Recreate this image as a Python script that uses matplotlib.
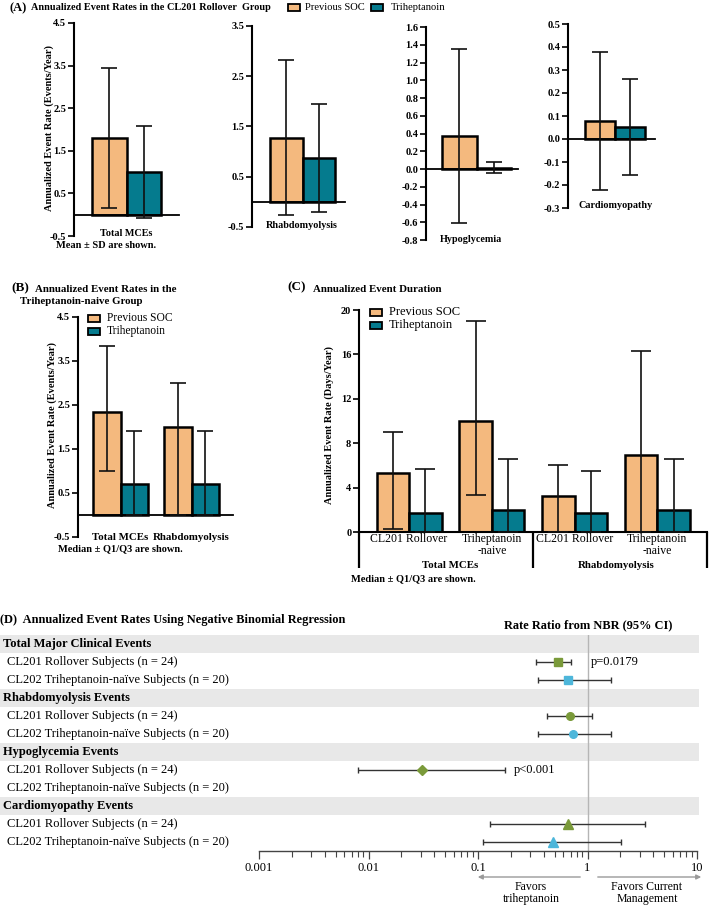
import numpy as np
import matplotlib
matplotlib.use("Agg")
import matplotlib.pyplot as plt
from matplotlib.patches import Rectangle, FancyArrowPatch
from matplotlib.transforms import blended_transform_factory

# ---------------- data ----------------
a_categories = ["Total MCEs", "Rhabdomyolysis", "Hypoglycemia", "Cardiomyopathy"]
a_soc_mean = [1.80, 1.28, 0.37, 0.08]
a_soc_sd = [1.65, 1.55, 0.98, 0.30]
a_tri_mean = [1.00, 0.87, 0.015, 0.053]
a_tri_sd = [1.08, 1.08, 0.065, 0.21]
a_yticks = [[4.5, 3.5, 2.5, 1.5, 0.5, -0.5],
            [3.5, 2.5, 1.5, 0.5, -0.5],
            [1.6, 1.4, 1.2, 1.0, 0.8, 0.6, 0.4, 0.2, 0.0, -0.2, -0.4, -0.6, -0.8],
            [0.5, 0.4, 0.3, 0.2, 0.1, 0.0, -0.1, -0.2, -0.3]]

b_categories = ["Total MCEs", "Rhabdomyolysis"]
b_soc_median = [2.33, 2.00]
b_soc_q1 = [1.00, 0.00]
b_soc_q3 = [3.83, 3.00]
b_tri_median = [0.70, 0.70]
b_tri_q1 = [0.00, 0.00]
b_tri_q3 = [1.90, 1.90]
b_yticks = [4.5, 3.5, 2.5, 1.5, 0.5, -0.5]

c_groups = ["Total MCEs", "Rhabdomyolysis"]
c_subgroups = ["CL201 Rollover", "Triheptanoin\n-naive", "CL201 Rollover", "Triheptanoin\n-naive"]
c_soc_median = [5.3, 10.0, 3.25, 6.95]
c_soc_q1 = [0.3, 3.3, 0.0, 0.0]
c_soc_q3 = [9.0, 19.0, 6.0, 16.3]
c_tri_median = [1.75, 1.95, 1.75, 1.95]
c_tri_q1 = [0.0, 0.0, 0.0, 0.0]
c_tri_q3 = [5.7, 6.6, 5.5, 6.6]
c_yticks = [0, 4, 8, 12, 16, 20]

d_groups = ["Total Major Clinical Events", "Rhabdomyolysis Events",
            "Hypoglycemia Events", "Cardiomyopathy Events"]
d_subjects = ["CL201 Rollover Subjects (n = 24)",
              "CL202 Triheptanoin-naïve Subjects (n = 20)"]
d_rr_cl201 = [0.54, 0.69, 0.031, 0.67]
d_lo_cl201 = [0.34, 0.43, 0.008, 0.13]
d_hi_cl201 = [0.70, 1.11, 0.177, 3.36]
d_rr_cl202 = [0.665, 0.74, np.nan, 0.48]
d_lo_cl202 = [0.35, 0.35, np.nan, 0.11]
d_hi_cl202 = [1.64, 1.64, np.nan, 2.04]
d_pvals = ["p=0.0179", "", "p<0.001", ""]
d_xticks = [0.001, 0.01, 0.1, 1, 10]
d_xticklabels = ["0.001", "0.01", "0.1", "1", "10"]

# ---------------- style ----------------
plt.rcParams['font.family'] = ['Liberation Serif', 'DejaVu Serif']
plt.rcParams['axes.unicode_minus'] = False

ORANGE = '#F4B97E'
TEAL = '#057B8E'
GREEN = '#7A9A3A'
BLUE = '#4DB6DA'
BAND = '#E8E8E8'

W, H = 709, 907
fig = plt.figure(figsize=(W / 100, H / 100), dpi=100)


def add_ax(l, t, r, b):
    return fig.add_axes([l / W, 1 - b / H, (r - l) / W, (b - t) / H])


def ftext(x, y, s, **kw):
    kw.setdefault('va', 'center')
    return fig.text(x / W, 1 - y / H, s, **kw)


def legend_item(x, y, color, label, fs, gap=7):
    w, h = 12, 7
    fig.add_artist(Rectangle((x / W, 1 - (y + h / 2) / H), w / W, h / H,
                             transform=fig.transFigure, facecolor=color,
                             edgecolor='black', lw=1.3))
    ftext(x + w + gap, y, label, fontsize=fs, ha='left')


def draw_pairs(ax, xs, width, soc, soc_lo, soc_hi, tri, tri_lo, tri_hi, capsize):
    soc, soc_lo, soc_hi = map(np.asarray, (soc, soc_lo, soc_hi))
    tri, tri_lo, tri_hi = map(np.asarray, (tri, tri_lo, tri_hi))
    ax.bar(xs - width / 2, soc, width, color=ORANGE, edgecolor='black', linewidth=1.8, zorder=2)
    ax.bar(xs + width / 2, tri, width, color=TEAL, edgecolor='black', linewidth=1.8, zorder=2)
    ax.errorbar(xs - width / 2, soc, yerr=[soc - soc_lo, soc_hi - soc], fmt='none',
                ecolor='#111111', elinewidth=1.2, capsize=capsize, capthick=1.2, zorder=3)
    ax.errorbar(xs + width / 2, tri, yerr=[tri - tri_lo, tri_hi - tri], fmt='none',
                ecolor='#111111', elinewidth=1.2, capsize=capsize, capthick=1.2, zorder=3)


def style_axes(ax, ylim, yticks, fmt, fs=7.5, zero_line=True):
    ax.set_ylim(*ylim)
    ax.set_yticks(yticks)
    ax.set_yticklabels([fmt.format(t) for t in yticks], fontsize=fs, fontweight='bold')
    for s in ('top', 'right'):
        ax.spines[s].set_visible(False)
    ax.spines['left'].set_linewidth(1.5)
    ax.spines['bottom'].set_linewidth(1.3)
    if zero_line:
        ax.spines['bottom'].set_position(('data', 0))
    ax.tick_params(axis='x', length=0, labelbottom=False)
    ax.tick_params(axis='y', length=4, width=1.2, pad=1.5)
    ax.patch.set_alpha(0)


# ---------------- Panel A ----------------
ftext(10, 8, "(A)", fontsize=9, fontweight='bold', ha='left')
ftext(31, 7, "Annualized Event Rates in the CL201 Rollover  Group", fontsize=7.4,
      fontweight='bold', ha='left')
legend_item(288, 7, ORANGE, "Previous SOC", 7.6, gap=5)
legend_item(371, 7, TEAL, "Triheptanoin", 7.6, gap=8)

# layout of each sub-panel: (axis left, top, right, bottom, pair center, bar width)
a_layout = [(74, 23, 179, 236, 126.5, 34.5),
            (252, 26, 345, 227, 302.5, 32.5),
            (426, 27, 518, 240, 476.5, 34.5),
            (568, 24, 655, 208, 615.0, 30.0)]
a_label_pos = [(126, 233), (302, 225), (471, 239), (616, 206)]
a_fmt = ["{:.1f}", "{:.1f}", "{:.1f}", "{:.1f}"]
for i, (l, t, r, b, c, w) in enumerate(a_layout):
    ax = add_ax(l, t, r, b)
    m1, s1 = a_soc_mean[i], a_soc_sd[i]
    m2, s2 = a_tri_mean[i], a_tri_sd[i]
    draw_pairs(ax, np.array([0.0]), w, [m1], [m1 - s1], [m1 + s1],
               [m2], [m2 - s2], [m2 + s2], capsize=6)
    ax.set_xlim(l - c, r - c)
    yt = a_yticks[i]
    style_axes(ax, (min(yt), max(yt)), yt, a_fmt[i])
    ftext(a_label_pos[i][0], a_label_pos[i][1], a_categories[i], fontsize=7.3,
          fontweight='bold', ha='center')
ftext(49, 128, "Annualized Event Rate (Events/Year)", fontsize=7.5, fontweight='bold',
      ha='center', rotation=90)
ftext(106, 246, "Mean ± SD are shown.", fontsize=7.5, fontweight='bold', ha='center')

# ---------------- Panel B ----------------
ftext(11, 288, "(B)", fontsize=9.5, fontweight='bold', ha='left')
ftext(35, 289, "Annualized Event Rates in the", fontsize=7.8, fontweight='bold', ha='left')
ftext(20, 301, "Triheptanoin-naive Group", fontsize=7.8, fontweight='bold', ha='left')

b_left, b_top, b_right, b_bottom, b_c0, b_gap, b_w = 78, 317, 233, 537, 120.5, 71, 27.5
axb = add_ax(b_left, b_top, b_right, b_bottom)
xs_b = np.arange(len(b_categories)) * b_gap
draw_pairs(axb, xs_b, b_w, b_soc_median, b_soc_q1, b_soc_q3,
           b_tri_median, b_tri_q1, b_tri_q3, capsize=6)
axb.set_xlim(b_left - b_c0, b_right - b_c0)
style_axes(axb, (-0.5, 4.5), b_yticks, "{:.1f}")
ftext(52, 425, "Annualized Event Rate (Events/Year)", fontsize=7.5, fontweight='bold',
      ha='center', rotation=90)
for x, lab in zip(xs_b, b_categories):
    axb.text(x, -0.5, lab, ha='center', va='center', fontsize=7.8, fontweight='bold')
legend_item(88, 318, ORANGE, "Previous SOC", 8.3)
legend_item(88, 331, TEAL, "Triheptanoin", 8.3)
ftext(120, 549, "Median ± Q1/Q3 are shown.", fontsize=7.5, fontweight='bold', ha='center')

# ---------------- Panel C ----------------
ftext(287, 287, "(C)", fontsize=9.5, fontweight='bold', ha='left')
ftext(313, 289, "Annualized Event Duration", fontsize=7.8, fontweight='bold', ha='left')

c_left, c_top, c_right, c_bottom, c_c0, c_gap, c_w = 359, 310, 707, 532, 409, 82.8, 32.5
axc = add_ax(c_left, c_top, c_right, c_bottom)
xs_c = np.arange(len(c_subgroups)) * c_gap
draw_pairs(axc, xs_c, c_w, c_soc_median, c_soc_q1, c_soc_q3,
           c_tri_median, c_tri_q1, c_tri_q3, capsize=7)
axc.set_xlim(c_left - c_c0, c_right - c_c0)
style_axes(axc, (0, 20), c_yticks, "{:d}", zero_line=False)
axc.spines['bottom'].set_linewidth(1.5)
axc.set_xticks(xs_c)
axc.set_xticklabels(c_subgroups, fontsize=8.5, linespacing=0.95)
axc.tick_params(axis='x', length=0, labelbottom=True, pad=1)
ftext(329, 425, "Annualized Event Rate (Days/Year)", fontsize=7.5, fontweight='bold',
      ha='center', rotation=90)
trc = blended_transform_factory(axc.transData, axc.transAxes)
c_h = c_bottom - c_top
sep_x = [c_left - c_c0, (xs_c[1] + xs_c[2]) / 2, c_right - c_c0]
for x in sep_x:
    axc.plot([x, x], [0, -(568 - c_bottom) / c_h], color='black', lw=1.6,
             transform=trc, clip_on=False, solid_capstyle='butt')
for g, lab in enumerate(c_groups):
    xm = (xs_c[2 * g] + xs_c[2 * g + 1]) / 2
    axc.text(xm, -(565 - c_bottom) / c_h, lab, transform=trc, ha='center', va='center',
             fontsize=7.8, fontweight='bold')
legend_item(370, 312, ORANGE, "Previous SOC", 9)
legend_item(370, 325, TEAL, "Triheptanoin", 9)
ftext(413, 579, "Median ± Q1/Q3 are shown.", fontsize=7.5, fontweight='bold', ha='center')

# ---------------- Panel D ----------------
ftext(0, 620, "(D)  Annualized Event Rates Using Negative Binomial Regression",
      fontsize=8.9, fontweight='bold', ha='left')
ftext(588, 625, "Rate Ratio from NBR (95% CI)", fontsize=8.9, fontweight='bold', ha='center')

d_top, d_bottom = 635, 851
n_rows = len(d_groups) * 3
bax = add_ax(0, d_top, 699, d_bottom)
bax.set_xlim(0, 699)
bax.set_ylim(n_rows - 0.5, -0.5)
bax.axis('off')
bax.set_zorder(1)
for g, name in enumerate(d_groups):
    r0 = 3 * g
    bax.axhspan(r0 - 0.5, r0 + 0.5, color=BAND, lw=0, zorder=0)
    bax.text(3, r0, name, fontsize=9, fontweight='bold', va='center', ha='left')
    for k, sub in enumerate(d_subjects):
        bax.text(7, r0 + 1 + k, sub, fontsize=9, va='center', ha='left')

fax = add_ax(259, d_top, 697, d_bottom)
fax.set_zorder(2)
fax.patch.set_alpha(0)
fax.set_xscale('log')
fax.set_xlim(0.001, 10)
fax.set_ylim(n_rows - 0.5, -0.5)
for s in ('top', 'right', 'left'):
    fax.spines[s].set_visible(False)
fax.spines['bottom'].set_color('#444444')
fax.spines['bottom'].set_linewidth(1.0)
fax.set_yticks([])
fax.set_xticks(d_xticks)
fax.set_xticklabels(d_xticklabels, fontsize=9)
fax.tick_params(axis='x', which='major', length=6, width=0.9, color='#444444', pad=2)
fax.tick_params(axis='x', which='minor', length=4, width=0.8, color='#444444')
fax.axvline(1, color='#B5B5B5', lw=1.0, zorder=0)

d_markers = ['s', 'o', 'D', '^']
d_msizes = [5.5, 5.5, 5.0, 6.5]
for g in range(len(d_groups)):
    for k, (rr, lo, hi, col) in enumerate([(d_rr_cl201, d_lo_cl201, d_hi_cl201, GREEN),
                                            (d_rr_cl202, d_lo_cl202, d_hi_cl202, BLUE)]):
        if np.isnan(rr[g]):
            continue
        row = 3 * g + 1 + k
        fax.errorbar([rr[g]], [row], xerr=[[rr[g] - lo[g]], [hi[g] - rr[g]]], fmt='none',
                     ecolor='#333333', elinewidth=1.0, capsize=2.5, capthick=1.0, zorder=3)
        fax.plot([rr[g]], [row], marker=d_markers[g], color=col, markersize=d_msizes[g],
                 linestyle='none', zorder=4)
# p-value labels placed just right of the CI
d_p_offset = [20, 0, 9, 0]
for g, p in enumerate(d_pvals):
    if p:
        fax.annotate(p, xy=(d_hi_cl201[g], 3 * g + 1), xytext=(d_p_offset[g] * 0.72, 0),
                     textcoords='offset points', fontsize=9, va='center', ha='left')

# favour arrows
arrow_kw = dict(transform=fig.transFigure, arrowstyle='-|>', mutation_scale=7,
                color='#9A9A9A', lw=1.0)
fig.add_artist(FancyArrowPatch((583 / W, 1 - 877 / H), (475 / W, 1 - 877 / H), **arrow_kw))
fig.add_artist(FancyArrowPatch((595 / W, 1 - 877 / H), (704 / W, 1 - 877 / H), **arrow_kw))
ftext(531, 893, "Favors\ntriheptanoin", fontsize=8.5, ha='center', linespacing=1.05)
ftext(647, 893, "Favors Current\nManagement", fontsize=8.5, ha='center', linespacing=1.05)

fig.savefig("out.png", dpi=100)
